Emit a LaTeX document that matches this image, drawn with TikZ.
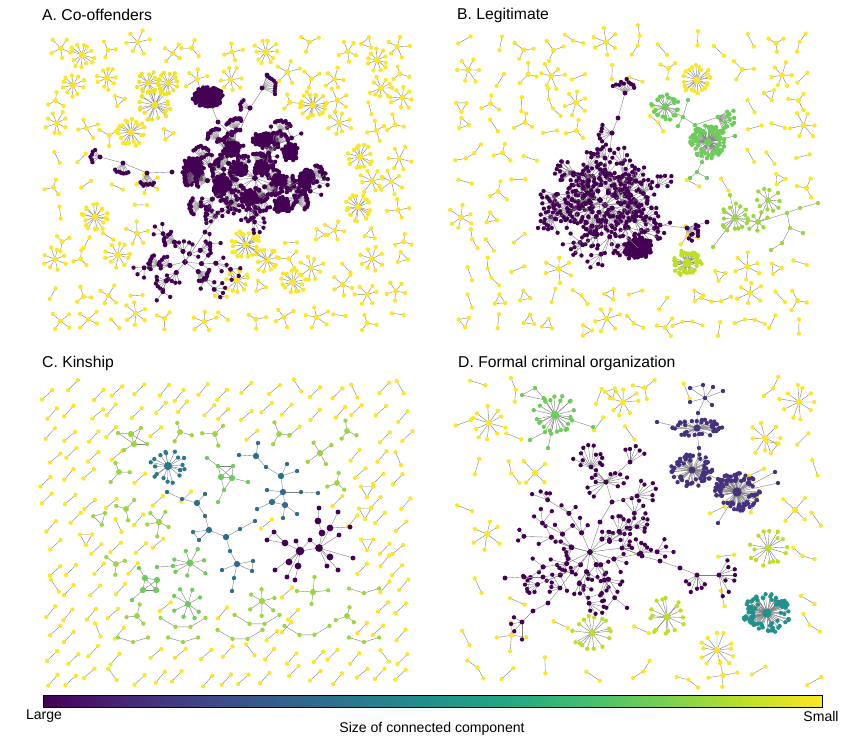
\documentclass[tikz,border=0pt]{standalone}
\usepackage{fontspec}
\setmainfont{Liberation Sans}

% viridis ramp
\definecolor{vir0}{HTML}{440154}
\definecolor{vir1}{HTML}{482475}
\definecolor{vir2}{HTML}{414487}
\definecolor{vir3}{HTML}{355F8D}
\definecolor{vir4}{HTML}{2A788E}
\definecolor{vir5}{HTML}{21918C}
\definecolor{vir6}{HTML}{22A884}
\definecolor{vir7}{HTML}{44BF70}
\definecolor{vir8}{HTML}{7AD151}
\definecolor{vir9}{HTML}{BDDF26}
\definecolor{vir10}{HTML}{FDE725}
\colorlet{linkgray}{black!50}
\colorlet{vindigo}{vir1!60!vir2}
\colorlet{vblue}{vir3!50!vir4}
\colorlet{vgreen}{vir8!75!vir7}
\colorlet{vlime}{vir8!50!vir9}
\colorlet{vyellow}{vir10!80!vir9}

\pgfdeclarehorizontalshading{viridis}{100bp}{color(0bp)=(vir0); color(25bp)=(vir0); color(30bp)=(vir1); color(35bp)=(vir2); color(40bp)=(vir3); color(45bp)=(vir4); color(50bp)=(vir5); color(55bp)=(vir6); color(60bp)=(vir7); color(65bp)=(vir8); color(70bp)=(vir9); color(75bp)=(vir10); color(100bp)=(vir10)}

\tikzset{
  link/.style={draw=linkgray, line width=0.35pt},
  paneltitle/.style={anchor=west, inner sep=0pt, font=\fontsize{13.4}{16}\selectfont},
  barlabel/.style={inner sep=0pt, font=\fontsize{12}{14}\selectfont},
}
\def\dotr{1.85pt}
\def\jit{0.1}

% two linked actors: x, y, angle, half length, colour
\newcommand\dyad[5]{%
  \begin{scope}[shift={(#1,#2)}]
    \coordinate (u) at (#3:#4);
    \coordinate (v) at (#3+180:#4);
    \draw[link] (u) -- (v);
    \fill[#5] (u) circle (\dotr) (v) circle (\dotr);
  \end{scope}}

% triangle: x, y, angle, size, colour
\newcommand\triad[5]{%
  \begin{scope}[shift={(#1,#2)}, rotate=#3]
    \coordinate (t1) at (90:#4);
    \coordinate (t2) at (210:#4);
    \coordinate (t3) at (330:#4);
    \draw[link] (t1) -- (t2) -- (t3) -- cycle;
    \fill[#5] (t1) circle (\dotr) (t2) circle (\dotr) (t3) circle (\dotr);
  \end{scope}}

% path: x, y, nodes, spacing, angle, colour
\newcommand\chain[6]{%
  \begin{scope}[shift={(#1,#2)}, rotate=#5]
    \foreach \q in {1,...,#3}{
      \pgfmathsetmacro\ox{(\q-(#3+1)/2)*#4}
      \pgfmathsetmacro\oy{-0.02*\ox*\ox}
      \coordinate (ch\q) at (\ox,\oy);
    }
    \foreach \q [count=\prev from 1] in {2,...,#3}{\draw[link] (ch\prev) -- (ch\q);}
    \foreach \q in {1,...,#3}{\fill[#6] (ch\q) circle (\dotr);}
  \end{scope}}

% star: x, y, leaves, radius, colour, hub radius
\newcommand\starnet[6]{%
  \begin{scope}[shift={(#1,#2)}]
    \pgfmathsetmacro\turn{360*rnd}
    \coordinate (hub) at (0,0);
    \foreach \q in {1,...,#3}{
      \pgfmathsetmacro\ang{\turn+360*\q/#3+12*rand}
      \pgfmathsetmacro\len{#4*(0.75+0.35*rnd)}
      \coordinate (lf\q) at (\ang:\len);
      \draw[link] (hub) -- (lf\q);
    }
    \foreach \q in {1,...,#3}{\fill[#5] (lf\q) circle (\dotr);}
    \fill[#5] (hub) circle (#6);
  \end{scope}}

% crowded star: x, y, leaves, x radius, y radius, colour, hub radius
\newcommand\crowd[7]{%
  \begin{scope}[shift={(#1,#2)}]
    \coordinate (hub) at (0,0);
    \foreach \q in {1,...,#3}{
      \pgfmathsetmacro\ang{360*rnd}
      \pgfmathsetmacro\fr{sqrt(0.3+0.7*rnd)}
      \pgfmathsetmacro\lx{#4*\fr*cos(\ang)}
      \pgfmathsetmacro\ly{#5*\fr*sin(\ang)}
      \coordinate (lf\q) at (\lx,\ly);
      \draw[link] (hub) -- (lf\q);
    }
    \foreach \q in {1,...,#3}{\fill[#6] (lf\q) circle (\dotr);}
    \fill[#6] (hub) circle (#7);
  \end{scope}}

% solid clump: x, y, leaves, x radius, y radius, colour
\newcommand\blob[6]{%
  \crowd{#1}{#2}{#3}{#4}{#5}{#6}{2pt}
  \fill[#6] (#1,#2) ellipse ({#4*0.027cm} and {#5*0.027cm});}

% fan: x, y, direction, half spread, leaves, radius, colour
\newcommand\fan[7]{%
  \begin{scope}[shift={(#1,#2)}]
    \coordinate (hub) at (0,0);
    \foreach \q in {0,...,#5}{
      \pgfmathsetmacro\ang{#3-#4+2*#4*\q/#5}
      \pgfmathsetmacro\len{#6*(1-\jit+2*\jit*rnd)}
      \coordinate (lf\q) at (\ang:\len);
      \draw[link] (hub) -- (lf\q);
    }
    \foreach \q in {0,...,#5}{\fill[#7] (lf\q) circle (\dotr);}
    \fill[#7] (hub) circle (2.1pt);
  \end{scope}}

% branching core: x, y, branches, steps, step length, colour, fan leaves, fan radius
\newcommand\sprawl[8]{%
  \foreach \br in {1,...,#3}{
    \pgfmathsetmacro\dir{360*\br/#3+15*rand}
    \xdef\px{#1}\xdef\py{#2}
    \foreach \s in {1,...,#4}{
      \pgfmathsetmacro\heading{\dir+35*rand}
      \pgfmathsetmacro\stp{#5*(0.7+0.5*rnd)}
      \pgfmathsetmacro\nx{\px+\stp*cos(\heading)}
      \pgfmathsetmacro\ny{\py+0.8*\stp*sin(\heading)}
      \coordinate (from) at (\px,\py);
      \coordinate (to) at (\nx,\ny);
      \draw[link] (from) -- (to);
      \pgfmathtruncatemacro\nf{1+(#7-1)*rnd}
      \pgfmathsetmacro\fd{\heading+50*rand}
      \fan{\nx}{\ny}{\fd}{45}{\nf}{#8}{#6}
      \fill[#6] (from) circle (2.1pt);
      \xdef\px{\nx}\xdef\py{\ny}
    }}}

% small components on a jittered grid: x0, y0, cols, rows, dx, dy, keep-out, mix
\newcommand\scatter[8]{%
  \foreach \i in {0,...,#3}{
    \foreach \j in {0,...,#4}{
      \pgfmathsetmacro\cx{#1+#5*\i+0.25*#5*rand}
      \pgfmathsetmacro\cy{#2+#6*\j+0.25*#6*rand}
      \pgfmathparse{#7}
      \ifdim\pgfmathresult pt>1pt\relax #8\fi
    }}}
\newcommand\near[3]{veclen((\cx-#1)/#3,(\cy-#2)/#3)}

\newcommand\mixA{%
  \pgfmathrandominteger{\kind}{0}{9}%
  \pgfmathsetmacro\tilt{360*rnd}%
  \ifcase\kind\relax
    \dyad{\cx}{\cy}{\tilt}{6}{vir10}%
  \or \starnet{\cx}{\cy}{3}{10}{vir10}{2.2pt}%
  \or \starnet{\cx}{\cy}{4}{11}{vir10}{2.2pt}%
  \or \starnet{\cx}{\cy}{5}{11}{vir10}{2.2pt}%
  \or \starnet{\cx}{\cy}{6}{12}{vir10}{2.2pt}%
  \or \starnet{\cx}{\cy}{8}{12}{vir10}{2.4pt}%
  \or \triad{\cx}{\cy}{\tilt}{6}{vir10}%
  \or \starnet{\cx}{\cy}{3}{10}{vir10}{2.2pt}%
  \or \dyad{\cx}{\cy}{\tilt}{6}{vir10}%
  \else \starnet{\cx}{\cy}{5}{12}{vir10}{2.4pt}%
  \fi}

\newcommand\mixB{%
  \pgfmathrandominteger{\kind}{0}{9}%
  \pgfmathsetmacro\tilt{360*rnd}%
  \ifcase\kind\relax
    \dyad{\cx}{\cy}{\tilt}{7}{vir10}%
  \or \dyad{\cx}{\cy}{\tilt}{7}{vir10}%
  \or \dyad{\cx}{\cy}{\tilt}{7}{vir10}%
  \or \dyad{\cx}{\cy}{\tilt}{7}{vir10}%
  \or \starnet{\cx}{\cy}{3}{11}{vir10}{2.2pt}%
  \or \starnet{\cx}{\cy}{3}{11}{vir10}{2.2pt}%
  \or \chain{\cx}{\cy}{3}{10}{\tilt}{vir10}%
  \or \starnet{\cx}{\cy}{6}{13}{vir10}{2.5pt}%
  \or \triad{\cx}{\cy}{\tilt}{6}{vir10}%
  \else \chain{\cx}{\cy}{4}{10}{\tilt}{vir10}%
  \fi}

\newcommand\mixC{%
  \pgfmathrandominteger{\kind}{0}{19}%
  \ifcase\kind\relax
    \pgfmathsetmacro\tilt{60+10*rand}\dyad{\cx}{\cy}{\tilt}{7}{vir10}%
  \or \pgfmathsetmacro\tilt{60+10*rand}\dyad{\cx}{\cy}{\tilt}{7}{vir10}%
  \else \pgfmathsetmacro\tilt{-45+6*rand}\dyad{\cx}{\cy}{\tilt}{7}{vir10}%
  \fi}

\newcommand\mixD{%
  \pgfmathrandominteger{\kind}{0}{9}%
  \pgfmathsetmacro\tilt{360*rnd}%
  \ifcase\kind\relax
    \dyad{\cx}{\cy}{\tilt}{8}{vir10}%
  \or \dyad{\cx}{\cy}{\tilt}{8}{vir10}%
  \or \dyad{\cx}{\cy}{\tilt}{8}{vir10}%
  \or \dyad{\cx}{\cy}{\tilt}{8}{vir10}%
  \or \chain{\cx}{\cy}{3}{12}{\tilt}{vir10}%
  \or \chain{\cx}{\cy}{3}{12}{\tilt}{vir10}%
  \or \starnet{\cx}{\cy}{3}{13}{vir10}{2.2pt}%
  \or \dyad{\cx}{\cy}{\tilt}{8}{vir10}%
  \or \starnet{\cx}{\cy}{4}{15}{vir10}{2.4pt}%
  \else \dyad{\cx}{\cy}{\tilt}{8}{vir10}%
  \fi}

% keep-out zones of the scattered components
\def\awayA{min(veclen((\cx-250)/95,(\cy-178)/62), veclen((\cx-183)/45,(\cy-266)/55), veclen((\cx-210)/26,(\cy-97)/18), veclen((\cx-263)/20,(\cy-85)/25), veclen((\cx-155)/32,(\cy-92)/28), veclen((\cx-122)/32,(\cy-165)/16), \near{82}{55}{20}, \near{266}{52}{20}, \near{73}{85}{18}, \near{107}{78}{18}, \near{377}{60}{18}, \near{381}{88}{18}, \near{131}{132}{22}, \near{313}{105}{22}, \near{360}{157}{20}, \near{358}{207}{22}, \near{95}{217}{22}, \near{118}{255}{18}, \near{246}{245}{22}, \near{267}{260}{20}, \near{237}{280}{20}, \near{293}{282}{20})}
\def\awayB{min(veclen((\cx-605)/88,(\cy-205)/72), veclen((\cx-615)/28,(\cy-112)/38), veclen((\cx-700)/42,(\cy-135)/45), veclen((\cx-765)/60,(\cy-220)/38), \near{687}{263}{24}, \near{697}{80}{22}, \near{638}{250}{22})}
\def\awayC{min(\near{168}{466}{24}, veclen((\cx-223)/30,(\cy-478)/28), veclen((\cx-280)/45,(\cy-478)/42), veclen((\cx-212)/48,(\cy-541)/52), veclen((\cx-310)/50,(\cy-545)/42), veclen((\cx-176)/36,(\cy-565)/22), \near{188}{604}{22}, \near{159}{522}{20}, \near{262}{601}{21}, \near{313}{592}{21}, \near{320}{453}{21}, \near{132}{438}{20}, \near{147}{585}{18}, \near{180}{432}{15}, \near{215}{434}{15}, \near{279}{434}{15}, \near{347}{431}{15}, \near{337}{483}{15}, \near{119}{472}{15}, \near{126}{509}{15}, \near{116}{564}{15}, \near{137}{616}{15}, \near{347}{616}{15}, \near{367}{490}{13}, \near{365}{512}{13}, \near{367}{543}{13}, \near{100}{518}{14}, \near{86}{538}{13}, veclen((\cx-183)/30,(\cy-628)/10), veclen((\cx-257)/30,(\cy-625)/10), veclen((\cx-307)/30,(\cy-636)/10), veclen((\cx-240)/30,(\cy-640)/10), veclen((\cx-133)/22,(\cy-642)/10), veclen((\cx-183)/22,(\cy-642)/10), veclen((\cx-364)/22,(\cy-593)/10), veclen((\cx-364)/22,(\cy-642)/10))}
\def\awayD{min(veclen((\cx-610)/115,(\cy-548)/80), veclen((\cx-605)/45,(\cy-475)/32), veclen((\cx-712)/35,(\cy-577)/22), veclen((\cx-712)/50,(\cy-445)/55), \near{555}{415}{35}, \near{489}{423}{24}, \near{623}{402}{22}, \near{799}{402}{24}, \near{765}{438}{24}, \near{535}{473}{22}, \near{487}{534}{20}, \near{795}{510}{22}, \near{768}{548}{24}, \near{767}{613}{32}, \near{667}{617}{24}, \near{592}{633}{24}, \near{717}{650}{22})}

\begin{document}
\begin{tikzpicture}[x=0.03cm, y=-0.03cm]
\pgfmathsetseed{11}
\useasboundingbox (0,0) rectangle (864,742);

\node[paneltitle] (titleA) at (42,15) {A. Co-offenders};
\node[paneltitle] (titleB) at (457,15) {B. Legitimate};
\node[paneltitle] (titleC) at (42,363) {C. Kinship};
\node[paneltitle] (titleD) at (458,363) {D. Formal criminal organization};

%% A. co-offenders
\scatter{56}{48}{12}{10}{28.5}{27}{\awayA}{\mixA}
\foreach \x/\y/\cnt/\rad in {82/55/12/12, 266/52/10/12, 73/85/10/11, 107/78/9/11, 377/60/10/11, 381/88/9/11, 131/132/20/13, 313/105/18/13, 360/157/14/12, 358/207/18/13, 95/217/18/13, 118/255/10/12, 246/245/22/14, 267/260/12/12, 237/280/12/12, 293/282/14/12}
  {\starnet{\x}{\y}{\cnt}{\rad}{vir10}{2.8pt}}
\coordinate (ya) at (246,245);
\coordinate (yb) at (267,260);
\draw[link] (ya) -- (yb);
% yellow trio
\coordinate (o1) at (148,83);
\coordinate (o2) at (168,83);
\coordinate (o3) at (155,105);
\draw[link] (o1) -- (o2) -- (o3) -- (o1);
\starnet{148}{83}{14}{11}{vyellow}{2.6pt}
\starnet{168}{83}{14}{11}{vyellow}{2.6pt}
\starnet{155}{105}{22}{15}{vyellow}{3pt}
% purple core
\blob{208}{97}{80}{16}{10}{vir0}
\blob{193}{170}{55}{11}{15}{vir0}
\sprawl{255}{178}{16}{4}{16}{vir0}{12}{11}
\foreach \x/\y/\rx/\ry in {232/150/9/8, 262/140/10/8, 290/152/9/9, 222/185/9/10, 250/198/10/8, 282/205/9/8, 305/180/8/10, 262/168/9/8, 240/170/7/7, 280/180/8/7}
  {\blob{\x}{\y}{22}{\rx}{\ry}{vir0}}
\sprawl{185}{262}{6}{3}{15}{vir0}{10}{10}
\foreach \nm/\x/\y in {a1/212/107, a2/218/122, a3/232/135, a4/205/232, a5/222/210, l1/100/157, l2/123/163, l3/147/173, l4/172/172, t1/240/130, t2/250/108, t3/262/90, t4/267/75, tc/185/262}
  {\coordinate (\nm) at (\x,\y);}
\draw[link] (a1) -- (a2) -- (a3);
\draw[link] (tc) -- (a4) -- (a5);
\draw[link] (l1) -- (l2) -- (l3) -- (l4);
\draw[link] (t1) -- (t2) -- (t3) -- (t4);
\fan{100}{157}{190}{45}{5}{9}{vir0}
\fan{123}{163}{100}{40}{6}{10}{vir0}
\fan{147}{173}{90}{35}{7}{12}{vir0}
\fan{262}{88}{-20}{45}{8}{14}{vir0}
\fan{250}{108}{200}{30}{4}{10}{vir0}
\foreach \nm in {a2, a3, a4, a5, l4, t1, t2, t4}{\fill[vir0] (\nm) circle (2.1pt);}

%% B. legitimate
\def\jit{0.35}
\scatter{468}{45}{12}{10}{28}{28}{\awayB}{\mixB}
\sprawl{605}{205}{20}{3}{20}{vir0}{8}{13}
\sprawl{600}{200}{12}{2}{15}{vir0}{6}{10}
\blob{638}{248}{50}{15}{11}{vir0}
\foreach \nm/\x/\y in {e1/605/170, e2/610/150, e3/612/133, e4/618/118, e5/625/93, e6/625/235, e7/638/248, e8/660/225, e9/687/228, e10/707/222}
  {\coordinate (\nm) at (\x,\y);}
\draw[link] (e1) -- (e2) -- (e3) -- (e4) -- (e5);
\draw[link] (e6) -- (e7);
\draw[link] (e8) -- (e9) -- (e10);
\fan{625}{93}{270}{60}{9}{12}{vir0}
\fan{612}{133}{180}{40}{5}{12}{vir0}
\fan{687}{228}{30}{50}{9}{11}{vir0}
\foreach \nm in {e1, e2, e3, e4, e8, e10}{\fill[vir0] (\nm) circle (2.1pt);}
% green component
\foreach \nm/\x/\y in {g1/665/107, g2/683/117, g3/688/100, g4/695/125, g5/708/142, g6/718/117, g7/735/136, g8/702/162, g9/697/172, g10/690/178, g11/707/178, g12/678/126}
  {\coordinate (\nm) at (\x,\y);}
\foreach \u/\v in {g1/g2, g2/g3, g2/g4, g4/g5, g4/g6, g5/g7, g5/g8, g8/g9, g9/g10, g9/g11, g2/g12}
  {\draw[link] (\u) -- (\v);}
\starnet{665}{107}{24}{13}{vgreen}{3pt}
\crowd{708}{142}{80}{18}{17}{vgreen}{3.5pt}
\fan{718}{117}{20}{50}{12}{13}{vgreen}
\foreach \nm in {g2, g3, g4, g7, g8, g9, g10, g11, g12}{\fill[vgreen] (\nm) circle (\dotr);}
% yellow-green component
\foreach \nm/\x/\y in {y1/735/218, y2/758/222, y3/768/200, y4/787/213, y5/800/208, y6/818/203, y7/790/228, y8/803/233, y9/782/243, y10/771/250, y11/713/247, y12/730/195}
  {\coordinate (\nm) at (\x,\y);}
\foreach \u/\v in {y1/y2, y2/y3, y2/y4, y4/y5, y5/y6, y4/y7, y7/y8, y7/y9, y9/y10, y1/y11, y1/y12}
  {\draw[link] (\u) -- (\v);}
\starnet{735}{218}{16}{14}{vlime}{3pt}
\starnet{768}{200}{10}{12}{vlime}{2.5pt}
\starnet{758}{222}{7}{10}{vlime}{2.5pt}
\foreach \nm in {y4, y5, y6, y7, y8, y9, y10, y11, y12}{\fill[vlime] (\nm) circle (\dotr);}
\crowd{687}{263}{45}{15}{14}{vir9}{4pt}
\starnet{697}{80}{22}{14}{vir10}{3pt}

%% C. kinship
\scatter{50}{390}{16}{13}{22}{22}{\awayC}{\mixC}
\starnet{168}{466}{18}{17}{vir4}{3.5pt}
% blue tree
\foreach \nm/\x/\y in {b1/167/492, b2/182/499, b3/197/503, b4/205/494, b5/205/516, b6/209/530, b7/193/532, b8/199/540, b9/226/537, b10/240/529, b11/255/521, b12/230/551, b13/237/564, b14/222/570, b15/253/561, b16/252/571, b17/234/578, b18/232/591,
  c1/239/455, c2/256/456, c3/258/443, c4/266/467, c5/281/476, c6/287/464, c7/297/471, c8/283/492, c9/267/490, c10/301/492, c11/318/493, c12/272/502, c13/285/505, c14/257/509, c15/297/514, c16/283/518}
  {\coordinate (\nm) at (\x,\y);}
\foreach \u/\v in {b1/b2, b2/b3, b3/b4, b3/b5, b5/b6, b6/b7, b6/b8, b7/b8, b6/b9, b9/b10, b10/b11, b9/b12, b12/b13, b13/b14, b13/b15, b13/b16, b15/b16, b13/b17, b17/b18,
  c1/c2, c2/c3, c2/c4, c4/c5, c5/c6, c5/c7, c5/c8, c8/c9, c8/c10, c10/c11, c8/c12, c8/c13, c12/c13, c12/c14, c13/c15, c13/c16}
  {\draw[link] (\u) -- (\v);}
\foreach \nm in {b1, b2, b4, b5, b7, b8, b10, b11, b12, b14, b15, b16, b17, b18, c1, c3, c4, c6, c7, c9, c10, c11, c14, c15, c16}
  {\fill[vblue] (\nm) circle (\dotr);}
\foreach \nm in {b3, b6, b9, b13, c2, c5, c8, c12, c13}{\fill[vblue] (\nm) circle (2.7pt);}
% purple family
\foreach \nm/\x/\y in {p1/300/551, p2/319/548, p3/285/543, p4/289/562, p5/298/566, p6/322/533, p7/330/528, p8/330/557, p9/318/521, p10/267/540, p11/274/532, p12/296/541, p13/287/577, p14/275/570, p15/295/580, p16/338/512, p17/339/535, p18/350/527, p19/353/558, p20/338/570, p21/327/566, p22/310/540, p23/319/508}
  {\coordinate (\nm) at (\x,\y);}
\foreach \u/\v in {p1/p2, p1/p3, p1/p4, p1/p5, p1/p12, p1/p14, p1/p13, p3/p10, p3/p11, p10/p11, p5/p15, p2/p6, p2/p7, p2/p8, p2/p17, p2/p19, p2/p20, p2/p21, p6/p9, p9/p23, p7/p16, p7/p18, p1/p22, p2/p22}
  {\draw[link] (\u) -- (\v);}
\foreach \nm in {p10, p11, p12, p13, p14, p15, p16, p17, p18, p19, p20, p21, p22, p23}{\fill[vir0] (\nm) circle (2.1pt);}
\foreach \nm in {p3, p4, p5, p6, p7, p8, p9}{\fill[vir0] (\nm) circle (2.9pt);}
\fill[vir0] (p1) circle (3.7pt) (p2) circle (3.3pt);
% green and lime groups
\coordinate (s1) at (190,563);
\coordinate (s2) at (173,566);
\coordinate (s3) at (157,567);
\draw[link] (s1) -- (s2) -- (s3);
\starnet{190}{563}{7}{17}{vgreen}{3pt}
\fill[vgreen] (s2) circle (\dotr) (s3) circle (\dotr);
\starnet{188}{604}{8}{16}{vgreen}{2.7pt}
\foreach \nm/\x/\y in {k1/218/466, k2/233/466, k3/221/477, k4/232/478, k5/224/490, k6/218/502, k7/207/458, k8/248/482,
  m1/145/578, m2/157/580, m3/143/590, m4/156/590, m5/139/568, m6/132/600,
  n1/131/434, n2/134/444, n3/118/433, n4/124/450, n5/141/428, n6/147/444}
  {\coordinate (\nm) at (\x,\y);}
\foreach \u/\v in {k7/k1, k1/k3, k1/k4, k2/k3, k2/k4, k3/k4, k3/k5, k4/k5, k5/k6, k4/k8, k1/k2,
  m1/m2, m1/m3, m1/m4, m2/m3, m2/m4, m3/m4, m1/m5, m3/m6,
  n3/n1, n3/n2, n1/n2, n1/n5, n2/n6, n2/n4, n1/n6, n2/n5}
  {\draw[link] (\u) -- (\v);}
\foreach \nm in {k1, k2, k5, k6, k7, k8, m5, m6}{\fill[vgreen] (\nm) circle (\dotr);}
\foreach \nm in {k3, k4, m1, m2, m3, m4}{\fill[vgreen] (\nm) circle (2.7pt);}
\foreach \nm in {n3, n4, n5, n6}{\fill[vlime] (\nm) circle (\dotr);}
\fill[vlime] (n1) circle (2.7pt) (n2) circle (2.7pt);
\starnet{159}{522}{5}{14}{vlime}{2.7pt}
\starnet{262}{601}{6}{15}{vlime}{2.7pt}
\starnet{313}{592}{4}{16}{vlime}{2.7pt}
\starnet{320}{453}{4}{16}{vlime}{2.7pt}
\foreach \x/\y in {180/432, 215/434, 279/434, 347/431, 337/483, 119/472, 126/509, 116/564, 137/616, 347/616}
  {\starnet{\x}{\y}{3}{12}{vlime}{2.5pt}}
\foreach \x/\y in {367/490, 365/512, 367/543, 86/538}{\triad{\x}{\y}{0}{7}{vir10}}
\triad{100}{518}{15}{7}{vlime}
\foreach \x/\y/\cnt in {183/628/4, 257/625/4, 307/636/4, 240/640/4, 133/642/3, 183/642/3, 364/593/3, 364/642/3}
  {\chain{\x}{\y}{\cnt}{15}{0}{vlime}}

%% D. formal criminal organization
\def\jit{0.45}
\scatter{470}{392}{8}{7}{42}{40}{\awayD}{\mixD}
% green star
\foreach \nm/\x/\y in {g0/555/415, q1/522/395, q2/535/388, q3/545/400, q4/593/427, q5/545/432, q6/530/440, q7/548/448}
  {\coordinate (\nm) at (\x,\y);}
\foreach \u/\v in {q1/q2, q2/q3, q1/q3, q3/g0, g0/q4, g0/q5, q5/q6, g0/q7}{\draw[link] (\u) -- (\v);}
\starnet{555}{415}{24}{20}{vgreen}{3.5pt}
\foreach \nm in {q1, q2, q3, q4, q5, q6, q7}{\fill[vgreen] (\nm) circle (\dotr);}
% yellow and lime stars
\foreach \x/\y/\cnt/\rad in {489/423/10/17, 623/402/8/16, 799/402/10/18, 765/438/8/16, 535/473/4/17, 487/534/6/15, 795/510/4/17, 717/650/12/17}
  {\starnet{\x}{\y}{\cnt}{\rad}{vir10}{2.7pt}}
\triad{611}{393}{20}{6}{vir10}
\triad{772}{446}{-10}{7}{vir10}
\foreach \x/\y in {768/548, 667/617, 592/633}{\starnet{\x}{\y}{16}{18}{vir9}{3pt}}
\crowd{767}{613}{85}{24}{20}{vir5}{4pt}
% indigo chain of crowds
\foreach \nm/\x/\y in {d1/705/398, d2/690/388, d3/703/385, d4/713/387, d5/723/391, d6/690/402, d7/712/405, d8/698/413, d9/697/431, d10/657/422, d11/699/448, d12/696/469, d13/718/479, d14/737/492, d15/775/472, d16/778/483, d17/718/523}
  {\coordinate (\nm) at (\x,\y);}
\foreach \u/\v in {d1/d2, d1/d3, d1/d4, d1/d5, d2/d3, d1/d6, d1/d7, d1/d8, d8/d9, d9/d10, d9/d11, d11/d12, d12/d13, d13/d14, d14/d15, d14/d16, d14/d17}
  {\draw[link] (\u) -- (\v);}
\crowd{697}{428}{36}{26}{9}{vindigo}{3pt}
\crowd{692}{470}{60}{21}{17}{vindigo}{3pt}
\crowd{737}{492}{85}{23}{19}{vindigo}{4pt}
\foreach \nm in {d1, d2, d3, d4, d5, d6, d7, d8, d10, d11, d13, d15, d16, d17}{\fill[vindigo] (\nm) circle (\dotr);}
% purple organisation
\sprawl{590}{552}{11}{3}{23}{vir0}{5}{12}
\foreach \nm/\x/\y in {cD/590/552, u1/591/467, u2/606/482, u3/630/462, u4/637/496, u5/612/502, u6/600/522, r1/622/548, r2/642/556, r3/660/561, r4/680/568, r5/697/575, r6/719/575, l0/572/572, l1/560/588, l2/548/603, l3/533/611, l4/522/622, l5/543/577, l6/524/577, l7/505/578}
  {\coordinate (\nm) at (\x,\y);}
\foreach \u/\v in {u1/u2, u2/u3, u2/u5, u5/u4, u5/u6, u6/cD, cD/r1, r1/r2, r2/r3, r3/r4, r4/r5, r5/r6, cD/l0, l0/l1, l1/l2, l2/l3, l3/l4, l0/l5, l5/l6, l6/l7}
  {\draw[link] (\u) -- (\v);}
\fan{591}{467}{270}{80}{11}{16}{vir0}
\fan{606}{482}{180}{50}{6}{15}{vir0}
\fan{606}{482}{340}{40}{5}{15}{vir0}
\fan{630}{462}{290}{40}{4}{14}{vir0}
\fan{637}{496}{330}{45}{5}{15}{vir0}
\fan{622}{548}{330}{50}{5}{13}{vir0}
\fan{697}{575}{100}{50}{5}{15}{vir0}
\fan{719}{575}{10}{70}{7}{15}{vir0}
\fan{522}{622}{150}{60}{3}{14}{vir0}
\fan{560}{588}{200}{40}{3}{13}{vir0}
\foreach \nm in {cD, u5, u6, r2, r3, r4, l0, l2, l3, l5, l6, l7}{\fill[vir0] (\nm) circle (2.1pt);}

%% colour bar
\coordinate (barA) at (43,695);
\coordinate (barB) at (822,707);
\shade[shading=viridis] (barA) rectangle (barB);
\draw[line width=0.5pt] (barA) rectangle (barB);
\node[barlabel] (large) at (44,716) {Large};
\node[barlabel] (small) at (821,716) {Small};
\node[barlabel] (caption) at (432,729) {Size of connected component};
\end{tikzpicture}
\end{document}
